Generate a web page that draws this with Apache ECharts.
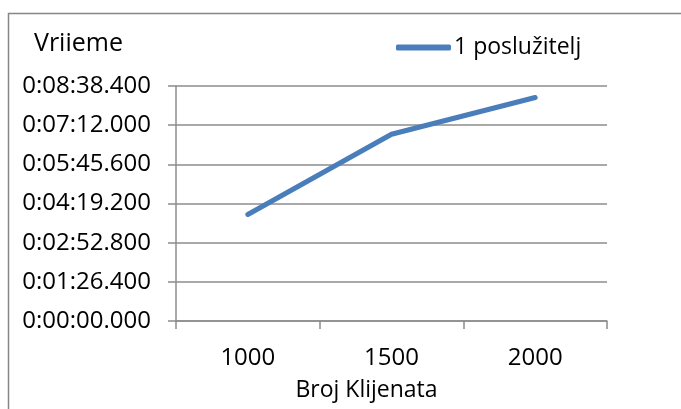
<!DOCTYPE html>
<html>
<head>
<meta charset="utf-8">
<script src="https://cdn.jsdelivr.net/npm/echarts@6/dist/echarts.min.js"></script>
<style>
html, body { margin: 0; padding: 0; background: #fff; }
#chart { width: 681px; height: 409px; }
</style>
</head>
<body>
<div id="chart"></div>
<script>
// broj klijenata
var categories = ['1000', '1500', '2000'];
// vrijeme u sekundama
var vrijemeSekunde = [235, 412, 493];
var seriesName = '1 poslužitelj';
// oznake osi: 0 do 0:08:38.400, korak 1:26.4
var yMin = 0;
var yMax = 518.4;
var yStep = 86.4;

function pad(n, len) {
	var s = String(n);
	while (s.length < len) s = '0' + s;
	return s;
}

function formatTime(v) {
	var ms = Math.round(v * 1000);
	var h = Math.floor(ms / 3600000);
	ms -= h * 3600000;
	var m = Math.floor(ms / 60000);
	ms -= m * 60000;
	var s = Math.floor(ms / 1000);
	ms -= s * 1000;
	return h + ':' + pad(m, 2) + ':' + pad(s, 2) + '.' + pad(ms, 3);
}

function initChart(chartId) {
	var dom = document.getElementById(chartId);
	var myChart = echarts.init(dom);
	var font = 'Open Sans';
	var grey = '#8c8c8c';

	var option = {
		animation: false,
		textStyle: { fontFamily: font },
		title: {
			text: 'Vriieme',
			left: 29,
			top: 26,
			textStyle: {
				fontFamily: font,
				fontSize: 25,
				fontWeight: 'normal',
				color: '#000'
			}
		},
		legend: {
			data: [seriesName],
			left: 391,
			top: 31,
			icon: 'roundRect',
			itemWidth: 55,
			itemHeight: 6,
			itemGap: 5,
			textStyle: {
				fontFamily: font,
				fontSize: 23,
				color: '#000',
				padding: [0, 0, 0, -2]
			}
		},
		graphic: [{
			type: 'rect',
			shape: { x: 8.5, y: 13.5, width: 700, height: 420 },
			style: { fill: 'none', stroke: '#868686', lineWidth: 1.5 },
			silent: true
		}],
		grid: {
			left: 176,
			right: 74,
			top: 86,
			bottom: 88
		},
		xAxis: {
			type: 'category',
			data: categories,
			boundaryGap: true,
			name: 'Broj Klijenata',
			nameLocation: 'middle',
			nameGap: 58,
			nameTextStyle: {
				fontFamily: font,
				fontSize: 23,
				color: '#000',
				padding: [0, 50, 0, 0]
			},
			axisLine: { lineStyle: { color: grey, width: 1.5 } },
			axisTick: { show: true, length: 8, lineStyle: { color: grey, width: 1.5 } },
			axisLabel: {
				margin: 25,
				fontFamily: font,
				fontSize: 24,
				color: '#000'
			},
			splitLine: { show: false }
		},
		yAxis: {
			type: 'value',
			min: yMin,
			max: yMax,
			interval: yStep,
			axisLine: { show: true, lineStyle: { color: grey, width: 1.5 } },
			axisTick: { show: true, length: 8, lineStyle: { color: grey, width: 1.5 } },
			axisLabel: {
				margin: 25,
				fontFamily: font,
				fontSize: 24,
				color: '#000',
				formatter: formatTime
			},
			splitLine: { show: true, lineStyle: { color: grey, width: 1.5 } }
		},
		series: [{
			name: seriesName,
			type: 'line',
			data: vrijemeSekunde,
			showSymbol: false,
			symbol: 'none',
			itemStyle: { color: '#4a7ebb' },
			lineStyle: { color: '#4a7ebb', width: 5, cap: 'round', join: 'round' }
		}]
	};

	myChart.setOption(option, true);
}

onload = function() {
	initChart('chart');
}
</script>
</body>
</html>
